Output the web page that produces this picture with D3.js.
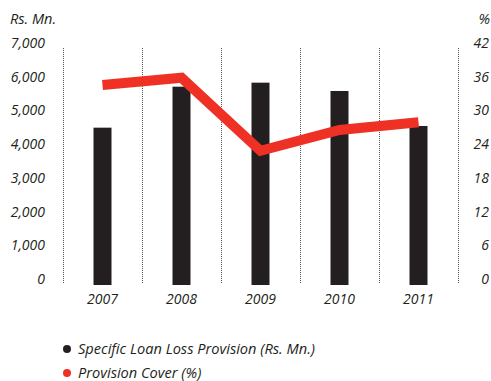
<!DOCTYPE html>
<html>
<head>
<meta charset="utf-8">
<script src="https://cdn.jsdelivr.net/npm/d3@7"></script>
<style>
  html, body { margin: 0; padding: 0; background: #fff; }
  svg text { font-family: "Open Sans", "Noto Sans", sans-serif; font-style: italic; fill: #231f20; }
</style>
</head>
<body>
<svg id="chart" width="491" height="381"></svg>
<script>
// Specific loan loss provision (Rs. Mn.) and provision cover (%) by year
const years = ["2007", "2008", "2009", "2010", "2011"];
const provision = [4637, 5853, 5972, 5725, 4687];
const cover = [35.4, 36.7, 23.7, 27.4, 28.8];
const leftTicks = [0, 1000, 2000, 3000, 4000, 5000, 6000, 7000];
const rightTicks = [0, 6, 12, 18, 24, 30, 36, 42];
const legendItems = ["Specific Loan Loss Provision (Rs. Mn.)", "Provision Cover (%)"];

const barColor = "#231f20";
const lineColor = "#ee3124";

const svg = d3.select("#chart");
const plot = { left: 63, right: 458, top: 48, bottom: 284 };

const x = d3.scaleBand().domain(years).range([plot.left, plot.right]);
const yL = d3.scaleLinear().domain([0, 7000]).range([plot.bottom, plot.top]);
const yR = d3.scaleLinear().domain([0, 42]).range([plot.bottom, plot.top]);

// dotted separators between years
const bounds = years.map(d => x(d)).concat([x(years[years.length - 1]) + x.bandwidth()]);
svg.append("g").selectAll("line").data(bounds).join("line")
  .attr("x1", d => Math.round(d) + 0.5).attr("x2", d => Math.round(d) + 0.5)
  .attr("y1", plot.top).attr("y2", plot.bottom - 1)
  .attr("stroke", "#555").attr("stroke-width", 1).attr("stroke-dasharray", "1,1");

// bars
const barW = 18;
svg.append("g").selectAll("rect").data(years).join("rect")
  .attr("x", d => x(d) + x.bandwidth() / 2 - barW / 2)
  .attr("width", barW)
  .attr("y", (d, i) => yL(provision[i]))
  .attr("height", (d, i) => yL(0) - yL(provision[i]) + 1)
  .attr("fill", barColor);

// provision cover line
const line = d3.line()
  .x((d, i) => x(years[i]) + x.bandwidth() / 2)
  .y(d => yR(d));
svg.append("path").datum(cover)
  .attr("d", line)
  .attr("fill", "none")
  .attr("stroke", lineColor)
  .attr("stroke-width", 10)
  .attr("stroke-linejoin", "miter")
  .attr("stroke-linecap", "butt");

// left axis labels
const fmt = d3.format(",");
const leftAxis = d3.axisLeft(yL).tickValues(leftTicks).tickFormat(fmt).tickSize(0).tickPadding(0);
const gL = svg.append("g").attr("transform", "translate(45,-5)").call(leftAxis);
gL.select(".domain").remove();
gL.selectAll("text").attr("font-size", 14).attr("font-family", null).attr("fill", barColor);

// right axis labels
const rightAxis = d3.axisRight(yR).tickValues(rightTicks).tickSize(0).tickPadding(0);
const gR = svg.append("g").attr("transform", "translate(489,-5)").call(rightAxis);
gR.select(".domain").remove();
gR.selectAll("text").attr("font-size", 14).attr("font-family", null).attr("text-anchor", "end").attr("fill", barColor);

// year labels
const xAxis = d3.axisBottom(x).tickSize(0).tickPadding(0);
const gX = svg.append("g").attr("transform", "translate(0,294)").call(xAxis);
gX.select(".domain").remove();
gX.selectAll("text").attr("font-size", 14).attr("font-family", null).attr("fill", barColor);

// unit captions
svg.append("text").attr("x", 10).attr("y", 24).attr("font-size", 14.5).text("Rs. Mn.");
svg.append("text").attr("x", 490).attr("y", 24).attr("font-size", 14.5).attr("text-anchor", "end").text("%");

// legend
const legend = svg.append("g").selectAll("g").data(legendItems).join("g")
  .attr("transform", (d, i) => `translate(67,${349 + i * 24})`);
legend.append("circle").attr("r", 4).attr("fill", (d, i) => i === 0 ? barColor : lineColor);
legend.append("text").attr("x", 11).attr("dy", "0.35em").attr("font-size", 14.6).text(d => d);
</script>
</body>
</html>
